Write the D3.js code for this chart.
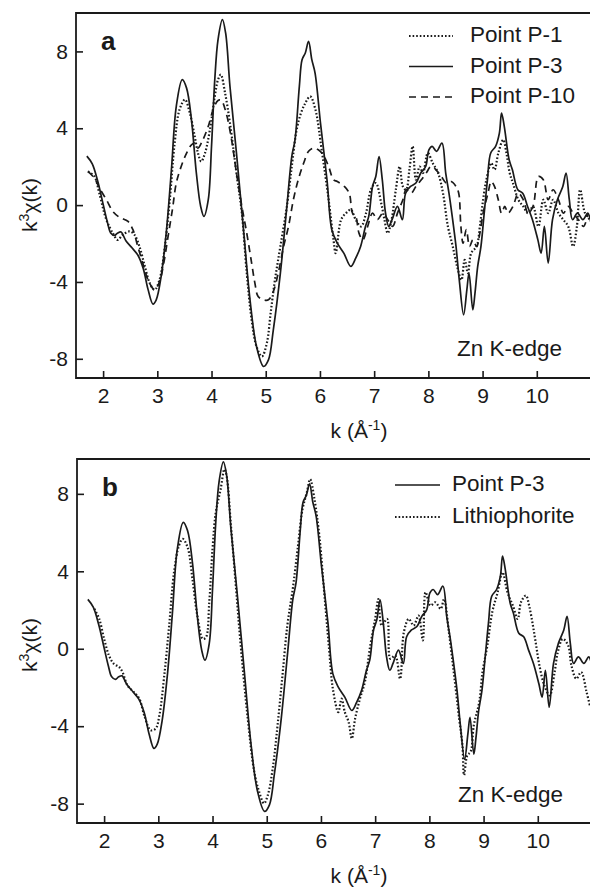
<!DOCTYPE html>
<html>
<head>
<meta charset="utf-8">
<script src="https://cdn.jsdelivr.net/npm/d3@7"></script>
<style>
  body { margin: 0; background: #fff; }
  svg text { font-family: "Liberation Sans", Arial, Helvetica, sans-serif; fill: #1a1a1a; }
</style>
</head>
<body>
<div id="chart"></div>
<script>
// x ticks / y ticks
const kTicks = [2, 3, 4, 5, 6, 7, 8, 9, 10];
const chiTicks = [-8, -4, 0, 4, 8];

// series [k, k^3 chi(k)]
const pointP3 = [
  [1.70, 2.55], [1.80, 2.15], [1.90, 1.25], [2.00, 0.05], [2.08, -0.9], [2.14, -1.45], [2.21, -1.58],
  [2.27, -1.45], [2.33, -1.4], [2.42, -1.85], [2.54, -2.25], [2.64, -2.6], [2.74, -3.3], [2.83, -4.4],
  [2.92, -5.15], [2.98, -4.93], [3.07, -3.72], [3.17, -1.28], [3.26, 1.84], [3.35, 5.14], [3.46, 6.53],
  [3.54, 6.09], [3.63, 4.44], [3.72, 1.67], [3.80, -0.07], [3.86, -0.59], [3.94, 0.28], [4.00, 3.06],
  [4.06, 6.53], [4.12, 8.61], [4.20, 9.65], [4.26, 8.96], [4.34, 6.18], [4.46, 2.71], [4.59, -1.28],
  [4.71, -4.93], [4.83, -7.36], [4.96, -8.40], [5.05, -8.06], [5.14, -6.49], [5.27, -3.54], [5.39, -0.07],
  [5.48, 2.53], [5.54, 3.40], [5.62, 6.18], [5.67, 7.57], [5.73, 7.92], [5.79, 8.52], [5.85, 7.57],
  [5.91, 6.87], [6.01, 4.27], [6.13, 1.32], [6.22, -1.3], [6.32, -1.98], [6.44, -2.5],
  [6.57, -3.19], [6.66, -2.76], [6.75, -2.15], [6.84, -1.11], [6.90, -0.59], [6.97, 0.97], [7.03, 1.49],
  [7.09, 2.53], [7.15, 1.32], [7.21, -0.42], [7.27, -1.11], [7.33, -0.76], [7.43, -0.07], [7.52, -0.76],
  [7.58, 0.62], [7.67, 0.97], [7.77, 1.15], [7.86, 1.67], [7.95, 2.01], [8.01, 2.88], [8.07, 3.06],
  [8.15, 2.80], [8.25, 3.23], [8.32, 1.67], [8.38, 0.62], [8.44, -0.59], [8.51, -2.15], [8.57, -3.89],
  [8.65, -5.71], [8.71, -4.41], [8.75, -3.54], [8.82, -5.45], [8.86, -4.58], [8.91, -3.19], [8.97, -2.15],
  [9.03, -0.42], [9.09, 1.32], [9.15, 2.71], [9.24, 3.06], [9.31, 3.75], [9.35, 4.79], [9.40, 4.10],
  [9.49, 2.36], [9.55, 1.84], [9.65, 0.80], [9.74, 0.62], [9.83, -0.07], [9.92, -0.76], [10.02, -1.81],
  [10.08, -2.5], [10.14, -1.11], [10.21, -3.02], [10.29, -0.76], [10.38, 0.28], [10.48, 0.97], [10.54, 1.67],
  [10.60, 0.28], [10.66, -0.76], [10.75, -0.42], [10.85, -0.76], [10.94, -0.42], [11.0, -0.94]
];

const pointP1 = [
  [1.72, 1.75], [1.84, 1.49], [1.93, 0.62], [2.06, -0.76], [2.18, -1.46], [2.27, -1.81], [2.36, -1.55],
  [2.49, -1.37], [2.58, -1.55], [2.67, -2.15], [2.77, -3.19], [2.86, -4.06], [2.95, -4.41], [3.04, -3.89],
  [3.14, -2.15], [3.23, 0.28], [3.32, 3.23], [3.41, 4.97], [3.51, 5.49], [3.60, 4.79], [3.69, 3.58],
  [3.75, 2.71], [3.81, 2.27], [3.88, 2.71], [3.97, 3.92], [4.06, 5.66], [4.12, 6.53], [4.17, 6.79],
  [4.25, 5.83], [4.34, 4.27], [4.46, 1.67], [4.56, -0.42], [4.65, -3.54], [4.74, -5.97], [4.83, -7.36],
  [4.93, -7.88], [5.02, -7.19], [5.09, -5.63], [5.17, -3.89], [5.27, -2.15], [5.39, -0.07], [5.48, 2.01],
  [5.57, 3.92], [5.65, 4.79], [5.73, 5.31], [5.82, 5.66], [5.91, 5.05], [6.04, 2.71], [6.16, 0.28],
  [6.25, -1.81], [6.29, -2.5], [6.39, -0.76], [6.48, -0.42], [6.57, -0.24], [6.66, -0.76], [6.76, -1.11],
  [6.85, -0.42], [6.94, 0.80], [7.03, 1.15], [7.13, 0.10], [7.19, -0.76], [7.25, -1.46], [7.31, -0.94],
  [7.40, 0.80], [7.47, 2.01], [7.53, 0.97], [7.59, 0.80], [7.65, 1.84], [7.71, 3.06], [7.77, 1.32],
  [7.84, 2.01], [7.90, 1.67], [7.99, 2.71], [8.08, 2.19], [8.18, 1.67], [8.27, 0.62], [8.36, -1.11],
  [8.45, -2.15], [8.53, -3.19], [8.61, -3.89], [8.67, -2.85], [8.73, -3.54], [8.79, -2.5], [8.89, -2.15],
  [8.95, -1.11], [9.01, 0.28], [9.07, 1.32], [9.16, 2.19], [9.22, 1.84], [9.29, 2.71], [9.38, 3.40],
  [9.44, 2.71], [9.50, 1.67], [9.56, 1.15], [9.66, 0.28], [9.75, -0.07], [9.84, -0.42], [9.93, -0.07],
  [10.03, -1.11], [10.12, 0.28], [10.21, -0.42], [10.30, 0.28], [10.40, -0.42], [10.49, -0.76], [10.58, -1.11],
  [10.67, -2.15], [10.74, -1.11], [10.80, 0.80], [10.89, -0.42], [10.98, -0.76]
];

const pointP10 = [
  [1.72, 1.75], [1.84, 1.4], [1.93, 0.9], [2.06, 0.28], [2.18, -0.33], [2.30, -0.63], [2.46, -0.85],
  [2.55, -1.28], [2.64, -2.15], [2.73, -3.0], [2.83, -3.9], [2.95, -4.4], [3.04, -4.0], [3.12, -3.0],
  [3.20, -1.6], [3.28, -0.2], [3.35, 1.15], [3.44, 2.01], [3.54, 2.71], [3.63, 3.14], [3.69, 3.23],
  [3.75, 2.97], [3.84, 3.40], [3.94, 4.10], [4.03, 4.97], [4.12, 5.45], [4.18, 5.45], [4.27, 4.79],
  [4.37, 3.40], [4.46, 1.67], [4.56, -0.07], [4.65, -1.46], [4.74, -3.02], [4.80, -4.06], [4.86, -4.76],
  [4.96, -4.93], [5.05, -4.93], [5.14, -4.50], [5.23, -3.54], [5.33, -2.15], [5.42, -1.11], [5.51, 0.28],
  [5.60, 1.32], [5.70, 2.19], [5.79, 2.80], [5.88, 2.97], [5.97, 2.88], [6.06, 2.62], [6.16, 2.01],
  [6.25, 1.32], [6.32, 1.23], [6.45, 0.97], [6.54, 0.62], [6.60, -0.42], [6.66, -0.59], [6.72, -1.46],
  [6.79, -1.81], [6.88, -1.11], [6.97, -0.42], [7.06, -0.76], [7.16, -0.42], [7.25, -0.76], [7.34, -1.11],
  [7.43, -0.42], [7.53, 0.28], [7.59, 0.80], [7.68, 0.62], [7.77, 0.97], [7.87, 1.32], [7.96, 1.67],
  [8.05, 2.01], [8.14, 1.84], [8.24, 1.49], [8.33, 1.15], [8.42, 1.23], [8.51, 0.97], [8.56, 0.62],
  [8.60, -1.11], [8.64, -1.98], [8.70, -1.28], [8.76, -2.15], [8.82, -1.81], [8.89, -2.15], [8.95, -1.46],
  [9.01, -0.42], [9.10, 0.62], [9.16, 1.23], [9.22, 0.97], [9.29, 0.28], [9.35, -0.42], [9.41, -0.07],
  [9.47, -0.42], [9.56, -0.07], [9.66, 0.62], [9.75, 0.28], [9.84, -0.42], [9.93, -0.07], [10.03, 1.49],
  [10.12, 1.32], [10.21, 0.28], [10.30, 0.80], [10.40, 0.28], [10.49, -0.42], [10.58, -0.07], [10.67, -0.42],
  [10.77, -0.76], [10.86, -1.11], [10.95, -0.42]
];

const lithiophorite = [
  [1.82, 2.06], [1.91, 1.54], [2.00, 0.51], [2.09, -0.35], [2.18, -0.78], [2.28, -0.95], [2.34, -1.21],
  [2.43, -1.89], [2.55, -2.24], [2.65, -2.58], [2.74, -3.44], [2.86, -4.21], [2.95, -4.13], [3.02, -3.44],
  [3.11, -1.38], [3.20, 1.2], [3.29, 3.95], [3.38, 5.32], [3.45, 5.67], [3.54, 5.24], [3.63, 3.6],
  [3.72, 1.71], [3.82, 0.51], [3.88, 0.6], [3.94, 2.4], [4.00, 5.15], [4.06, 7.04], [4.15, 8.24],
  [4.22, 9.27], [4.26, 8.93], [4.34, 6.35], [4.43, 3.26], [4.52, 0.17], [4.65, -3.61], [4.77, -6.36],
  [4.86, -7.39], [4.95, -7.99], [5.02, -7.56], [5.11, -6.19], [5.20, -3.95], [5.29, -1.38], [5.38, 1.2],
  [5.48, 3.09], [5.57, 5.15], [5.66, 7.21], [5.74, 8.07], [5.80, 8.76], [5.88, 7.73], [5.97, 5.84],
  [6.06, 2.92], [6.15, 0.0], [6.22, -2.07], [6.32, -3.27], [6.38, -2.58], [6.44, -3.27], [6.51, -3.78],
  [6.57, -4.64], [6.63, -3.61], [6.72, -2.58], [6.81, -1.72], [6.91, 0.17], [7.00, 1.54], [7.06, 2.57],
  [7.12, 1.2], [7.22, 1.54], [7.28, -0.52], [7.37, -0.35], [7.46, -1.55], [7.53, 0.86], [7.62, 1.54],
  [7.71, 1.2], [7.80, 1.71], [7.88, 0.43], [7.93, 2.92], [8.02, 2.23], [8.11, 2.4], [8.21, 2.06],
  [8.27, 2.57], [8.36, 0.86], [8.45, -1.21], [8.55, -3.61], [8.61, -4.99], [8.64, -6.53], [8.70, -5.5],
  [8.76, -5.33], [8.82, -3.95], [8.92, -2.75], [8.98, -1.21], [9.07, 0.17], [9.16, 1.89], [9.26, 2.92],
  [9.35, 3.95], [9.44, 2.92], [9.54, 2.23], [9.63, 1.54], [9.69, 2.4], [9.78, 2.75], [9.84, 2.23],
  [9.91, 1.2], [9.97, 0.17], [10.03, -0.86], [10.12, -1.89], [10.22, -2.41], [10.31, -1.21], [10.37, -0.17],
  [10.46, 0.51], [10.56, 0.17], [10.62, -0.86], [10.71, -1.55], [10.80, -1.21], [10.90, -2.24], [10.96, -2.92]
];

const styles = {
  solid:  { dash: null, width: 1.7 },
  dotted: { dash: '1.6,2', width: 2.2 },
  dashed: { dash: '7,5', width: 1.7 }
};

const W = 590, H = 888;
const ink = '#1a1a1a';

const svg = d3.select('#chart').append('svg')
  .attr('width', W).attr('height', H);

function panel(cfg) {
  const x = d3.scaleLinear().domain([1.5, 11]).range(cfg.xr);
  const y = d3.scaleLinear().domain(cfg.yd).range(cfg.yr);
  const g = svg.append('g');

  const clipId = 'clip-' + cfg.tag;
  svg.append('clipPath').attr('id', clipId)
    .append('rect').attr('x', cfg.xr[0]).attr('y', cfg.yr[1])
    .attr('width', cfg.xr[1] - cfg.xr[0]).attr('height', cfg.yr[0] - cfg.yr[1]);

  const line = d3.line().x(d => x(d[0])).y(d => y(d[1])).curve(d3.curveCatmullRom.alpha(0.5));
  const plot = g.append('g').attr('clip-path', `url(#${clipId})`);
  cfg.series.forEach(s => {
    const st = styles[s.style];
    plot.append('path').datum(s.data)
      .attr('d', line)
      .attr('fill', 'none')
      .attr('stroke', ink)
      .attr('stroke-width', st.width)
      .attr('stroke-dasharray', st.dash)
      .attr('stroke-linejoin', 'round');
  });

  // frame (top + left + bottom)
  g.append('path')
    .attr('d', `M${cfg.xr[1]},${cfg.yr[1]}H${cfg.xr[0]}V${cfg.yr[0]}H${cfg.xr[1]}`)
    .attr('fill', 'none').attr('stroke', ink).attr('stroke-width', 1.8);

  const xAxis = g.append('g').attr('transform', `translate(0,${cfg.yr[0]})`)
    .call(d3.axisBottom(x).tickValues(kTicks).tickFormat(d => String(d))
      .tickSizeInner(-7).tickSizeOuter(0).tickPadding(10));
  const yAxis = g.append('g').attr('transform', `translate(${cfg.xr[0]},0)`)
    .call(d3.axisLeft(y).tickValues(chiTicks).tickFormat(d => String(d))
      .tickSizeInner(-7).tickSizeOuter(0).tickPadding(8));
  [xAxis, yAxis].forEach(a => {
    a.select('.domain').remove();
    a.selectAll('line').attr('stroke', ink).attr('stroke-width', 1.6);
    a.selectAll('text').style('font-size', '21px').attr('fill', ink);
  });

  // panel letter
  g.append('text').attr('x', cfg.xr[0] + 25).attr('y', cfg.letterY)
    .style('font-size', '26px').style('font-weight', 'bold').text(cfg.tag);

  // axis titles
  const yt = g.append('text')
    .attr('transform', `translate(37,${cfg.yTitleY}) rotate(-90)`)
    .attr('text-anchor', 'middle').style('font-size', '21px');
  yt.append('tspan').text('k');
  yt.append('tspan').attr('dy', -8).style('font-size', '14px').text('3');
  yt.append('tspan').attr('dy', 8).text('χ(k)');

  const xt = g.append('text').attr('x', 359).attr('y', cfg.yr[0] + 60)
    .attr('text-anchor', 'middle').style('font-size', '21px');
  xt.append('tspan').text('k (Å');
  xt.append('tspan').attr('dy', -8).style('font-size', '14px').text('-1');
  xt.append('tspan').attr('dy', 8).text(')');

  // edge label
  g.append('text').attr('x', cfg.edgeX).attr('y', cfg.edgeY)
    .style('font-size', '22.5px').text('Zn K-edge');

  // legend
  const lg = g.append('g');
  cfg.series.forEach((s, i) => {
    const st = styles[s.style];
    const ly = cfg.leg.y0 + i * cfg.leg.dy;
    lg.append('line')
      .attr('x1', cfg.leg.x1).attr('x2', cfg.leg.x2)
      .attr('y1', ly - 6).attr('y2', ly - 6)
      .attr('stroke', ink).attr('stroke-width', st.width)
      .attr('stroke-dasharray', st.dash);
    lg.append('text').attr('x', cfg.leg.tx).attr('y', ly)
      .style('font-size', '22.5px').text(s.name);
  });
}

panel({
  tag: 'a',
  xr: [76, 591], yd: [-9, 10], yr: [378, 13],
  letterY: 50, yTitleY: 205,
  edgeX: 457, edgeY: 356,
  leg: { x1: 409, x2: 453, tx: 470, y0: 42, dy: 30.5 },
  series: [
    { name: 'Point P-1', style: 'dotted', data: pointP1 },
    { name: 'Point P-3', style: 'solid', data: pointP3 },
    { name: 'Point P-10', style: 'dashed', data: pointP10 }
  ]
});

panel({
  tag: 'b',
  xr: [77, 592], yd: [-9, 9.8], yr: [823, 459],
  letterY: 496, yTitleY: 645,
  edgeX: 458, edgeY: 802,
  leg: { x1: 395, x2: 440, tx: 452, y0: 491, dy: 32 },
  series: [
    { name: 'Point P-3', style: 'solid', data: pointP3 },
    { name: 'Lithiophorite', style: 'dotted', data: lithiophorite }
  ]
});
</script>
</body>
</html>
